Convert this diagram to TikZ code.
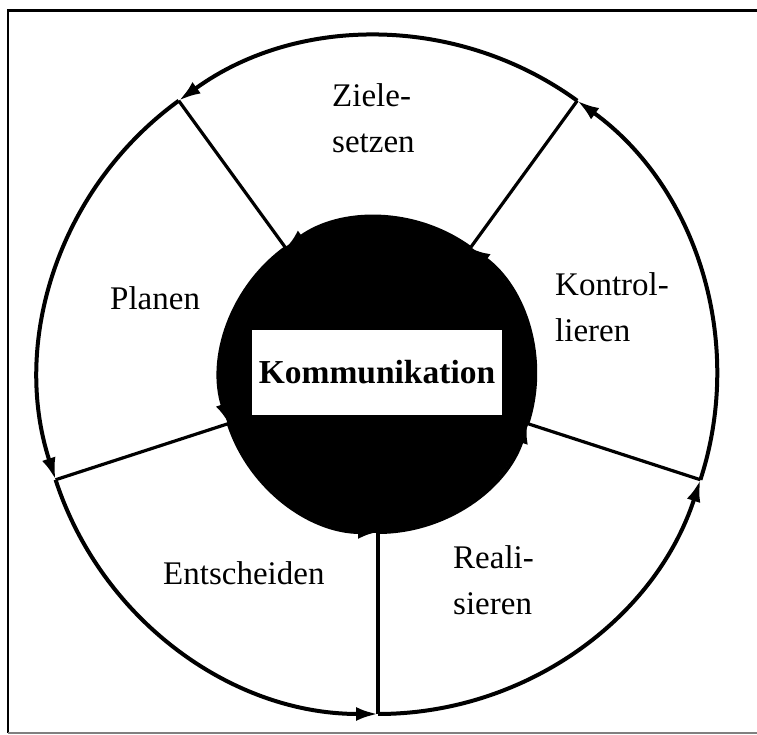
\documentclass[tikz,border=0pt]{standalone}
\usepackage{fontspec}
\setmainfont{Liberation Serif}
\usetikzlibrary{arrows.meta}
\begin{document}
\begin{tikzpicture}[x=1pt,y=1pt,
  ring/.style={line width=4pt, -{Latex[length=22pt,width=14pt]}},
  corearc/.style={line width=4pt, -{Latex[length=20pt,width=14pt]}},
  spoke/.style={line width=3.2pt},
  lbl/.style={font=\fontsize{33}{46}\selectfont, align=left, anchor=base west, inner sep=0pt},
]
\useasboundingbox (0,0) rectangle (757,735);
% frame
\coordinate (ftl) at (7,724);
\coordinate (ftr) at (757,724);
\coordinate (fbl) at (8,2);
\coordinate (fbr) at (757,2);
\draw[line width=3pt] (ftl) -- (ftr);
\draw[line width=2pt] (8,724) -- (fbl);
\draw[line width=1.5pt, gray] (fbl) -- (fbr);
% centre
\coordinate (C) at (378,360);
\node[circle, fill=black, minimum size=316pt, inner sep=0pt, outer sep=0pt] (core) at (C) {};
\foreach \a/\n in {-90/1,-18/2,54/3,126/4,198/5}{
  \path (C) ++(\a:339) coordinate (o\n);
  \path (C) ++(\a:157) coordinate (i\n);
}
% spokes
\foreach \n in {1,...,5}{
  \draw[spoke] (i\n) -- (o\n);
}
% outer ring arcs
\foreach \a/\n in {-90/1,-18/2,54/3,126/4,198/5}{
  \draw[ring] (o\n) arc[start angle=\a, end angle=\a+72, radius=339];
}
% inner ring arcs
\foreach \a/\n in {-90/1,-18/2,54/3,126/4,198/5}{
  \draw[corearc] (i\n) arc[start angle=\a, end angle=\a+72, radius=157];
}
% central label
\node[fill=white, minimum width=250pt, minimum height=85pt, inner sep=0pt,
  font=\fontsize{33.5}{40}\selectfont\bfseries] (komm) at (377,362.5) {Kommunikation};
% phase labels (anchor = baseline of last line)
\node[lbl] (ziele) at (332,582) {Ziele-\\setzen};
\node[lbl] (planen) at (110,425) {Planen};
\node[lbl] (kontrol) at (555,393) {Kontrol-\\lieren};
\node[lbl] (entsch) at (163,150) {Entscheiden};
\node[lbl] (reali) at (453,120) {Reali-\\sieren};
\end{tikzpicture}
\end{document}
